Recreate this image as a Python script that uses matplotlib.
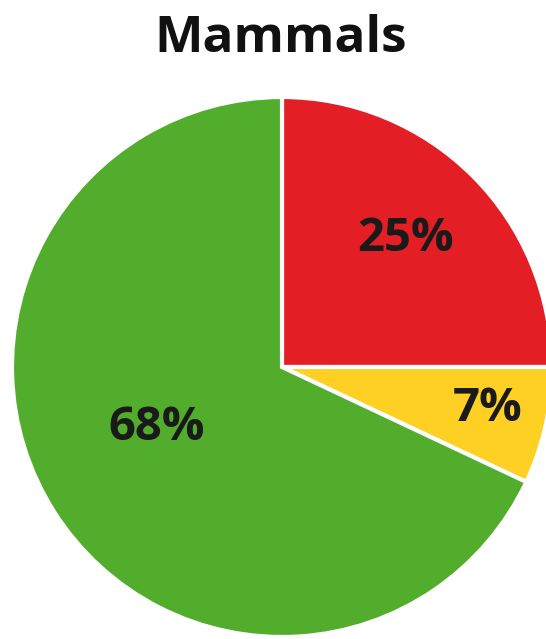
import matplotlib
matplotlib.use("Agg")
import matplotlib.pyplot as plt
import numpy as np

title = "Mammals"
categories = ["Red", "Yellow", "Green"]
values = [25, 7, 68]
labels = ["25%", "7%", "68%"]
colors = ["#e31e24", "#fdd023", "#53ad2c"]
label_dist = [0.66, 0.775, 0.515]
label_ang_off = [1.3, 1.3, -6.8]

W, H = 546, 639
fig = plt.figure(figsize=(W / 100, H / 100), dpi=100)
ax = fig.add_axes([0, 0, 1, 1])
cx, cy, r = 282, 367, 270

wedges, _ = ax.pie(values, colors=colors, startangle=90, counterclock=False,
                   radius=1, wedgeprops=dict(edgecolor="white", linewidth=3))
for w, lab, d, off in zip(wedges, labels, label_dist, label_ang_off):
    ang = np.deg2rad((w.theta1 + w.theta2) / 2 + off)
    ax.text(d * np.cos(ang), d * np.sin(ang), lab, ha="center", va="center",
            fontsize=34, fontweight="bold", family="Open Sans", color="#1a1a1a")
ax.set_aspect("auto")
ax.set_xlim(-cx / r, (W - cx) / r)
ax.set_ylim(-(H - cy) / r, cy / r)
ax.axis("off")
fig.text(281 / W, 1 - 52 / H, title, ha="center", va="baseline", fontsize=37,
         fontweight="bold", family="Open Sans", color="#111111")
fig.savefig("out.png", dpi=100)
